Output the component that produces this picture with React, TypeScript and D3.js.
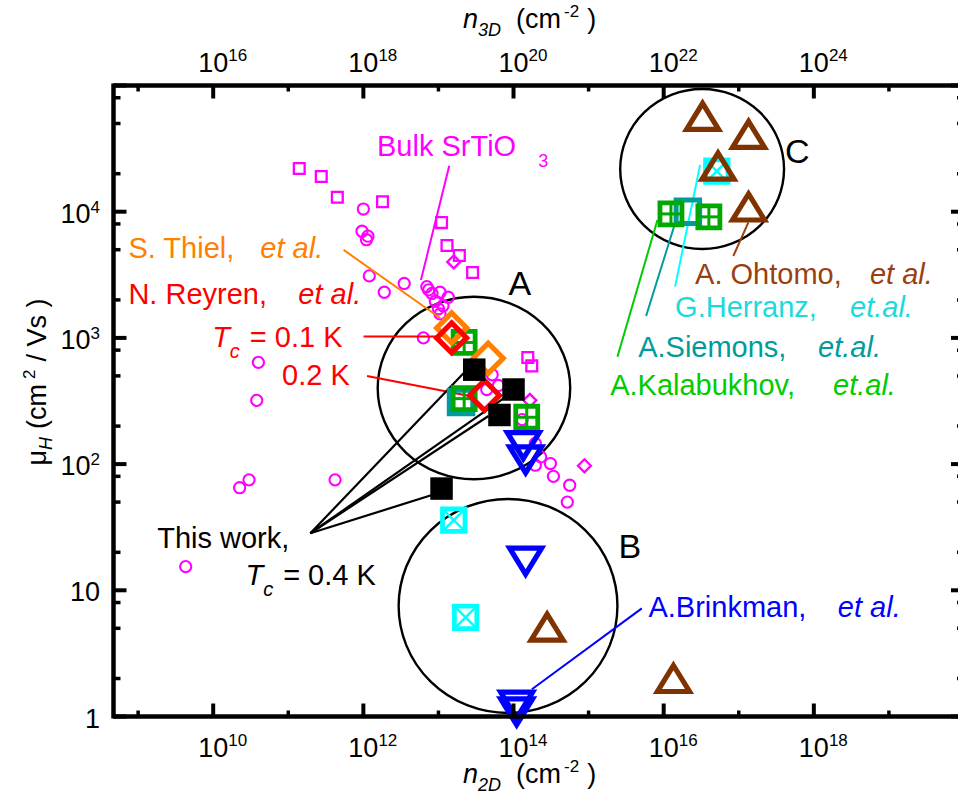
import React from "react";
import * as d3 from "d3";

// ---------- axes ----------
const X_MIN = 4.7e8;
const X_MAX = 1e20;
const Y_MIN = 1;
const Y_MAX = 1e5;
const BOTTOM_TICK_EXPS = [9, 10, 11, 12, 13, 14, 15, 16, 17, 18, 19];
const BOTTOM_LABEL_EXPS = [10, 12, 14, 16, 18];
const TOP_EXP_OFFSET = 6; // n3D label exponent = n2D exponent + 6
const Y_MAJOR_EXPS = [0, 1, 2, 3, 4, 5];
const Y_MINOR_MULT = [2, 5, 8];
const Y_LABELS = [
  { exp: 0, base: "1", sup: "" },
  { exp: 1, base: "10", sup: "" },
  { exp: 2, base: "10", sup: "2" },
  { exp: 3, base: "10", sup: "3" },
  { exp: 4, base: "10", sup: "4" },
];

// ---------- data (n2D in cm^-2, mu in cm^2/Vs) ----------
const bulkSquareN = [1.4e11, 2.75e11, 4.5e11, 1.8e12, 1.1e13, 1.3e13, 1.9e13, 2.85e13, 1.55e14, 1.75e14];
const bulkSquareMu = [22000, 19000, 13000, 12000, 8200, 5400, 4500, 3300, 700, 600];
const bulkDiamondN = [1.6e13, 1.65e14, 8.8e14];
const bulkDiamondMu = [4000, 320, 97];
const bulkCircleN = [
  1.0e12, 9.6e11, 1.15e12, 1.1e12, 1.2e12, 1.9e12, 3.5e12, 7.0e12, 7.4e12, 8.2e12,
  1.05e13, 1.35e13, 9.1e12, 1.0e13, 1.05e13, 1.15e13, 6.3e12, 4.0e10, 3.8e10, 3.0e10,
  2.25e10, 4.2e11, 4.3e9, 5.2e13, 4.4e13, 6.3e13, 1.3e14, 1.95e14, 2.3e14, 1.95e14,
  3.1e14, 3.4e14, 5.6e14, 5.2e14,
];
const bulkCircleMu = [
  10500, 7000, 6400, 6000, 3100, 2300, 2700, 2550, 2400, 2250,
  2300, 2100, 1950, 1700, 1550, 1800, 1000, 640, 320, 75,
  65, 75, 15.4, 510, 390, 420, 225, 146, 114, 98,
  101, 80, 68, 50,
];
const thisWorkN = [3.0e13, 1.0e14, 6.5e13, 1.1e13];
const thisWorkMu = [560, 390, 245, 64];
const reyrenN = [1.5e13, 4.1e13];
const reyrenMu = [1000, 350];
const thielN = [1.5e13, 4.6e13];
const thielMu = [1200, 690];
const kalabukhovN = [2.2e13, 2.2e13, 1.5e14, 1.25e16, 4.0e16];
const kalabukhovMu = [920, 330, 235, 9600, 9100];
const siemonsN = [2.0e13, 2.1e16];
const siemonsMu = [310, 10000];
const herranzN = [1.6e13, 2.3e13, 5.1e16];
const herranzMu = [36, 6.1, 21000];
const ohtomoN = [3.3e16, 1.35e17, 5.3e16, 1.35e17, 2.8e14, 1.35e16];
const ohtomoMu = [57000, 41000, 23000, 10900, 5.1, 2.0];
const brinkmanN = [1.35e14, 1.45e14, 1.45e14, 1.1e14, 1.1e14];
const brinkmanMu = [140, 108, 17, 1.23, 1.09];

// ---------- colours ----------
const MAGENTA = "#FF00FF";
const ORANGE = "#FF8000";
const RED = "#FF0000";
const GREEN_MARK = "#00A800";
const GREEN_TEXT = "#00CC00";
const TEAL = "#009B9B";
const CYAN = "#00FFFF";
const CYAN_TEXT = "#1ADADA";
const BROWN = "#803300";
const BROWN_TEXT = "#9A4010";
const BLUE = "#0000FF";

const FONT = "'Liberation Sans', Arial, Helvetica, sans-serif";

// ---------- layout ----------
const PLOT = { left: 113.5, right: 964, top: 85.5, bottom: 716.5 };

// group circles (log10 centre, log10 half-widths)
const groupEllipses = [
  { c: [13.473, 2.603], r: [1.282, 0.723], label: "A", at: [13.933, 3.34] },
  { c: [13.927, 0.876], r: [1.457, 0.848], label: "B", at: [15.398, 1.254] },
  { c: [16.512, 4.338], r: [1.091, 0.634], label: "C", at: [17.617, 4.386] },
];

// leader lines in log10 coordinates
const leaders = [
  { a: [11.737, 3.697], b: [13.024, 3.158], color: ORANGE, w: 2 },
  { a: [12.003, 3.011], b: [13.024, 3.011], color: RED, w: 2.2 },
  { a: [12.049, 2.698], b: [13.468, 2.534], color: RED, w: 2.2 },
  { a: [11.294, 1.452], b: [12.914, 1.755], color: "#000", w: 2.2 },
  { a: [11.294, 1.452], b: [13.334, 2.72], color: "#000", w: 2.2 },
  { a: [11.294, 1.452], b: [13.867, 2.521], color: "#000", w: 2.2 },
  { a: [11.294, 1.452], b: [13.667, 2.381], color: "#000", w: 2.2 },
  { a: [13.144, 4.365], b: [12.767, 3.459], color: MAGENTA, w: 2 },
  { a: [17.128, 3.916], b: [16.928, 3.649], color: BROWN_TEXT, w: 2 },
  { a: [16.485, 4.37], b: [16.152, 3.406], color: CYAN, w: 2 },
  { a: [16.183, 3.968], b: [15.766, 3.174], color: TEAL, w: 2 },
  { a: [15.917, 3.934], b: [15.384, 2.851], color: GREEN_TEXT, w: 2 },
  { a: [15.709, 0.857], b: [14.245, 0.216], color: BLUE, w: 2 },
];

type Span = { t: string; italic?: boolean; size?: number; dx?: number; dy?: number };
type Note = { at: number[]; color: string; spans: Span[] };
const NOTE_SIZE = 29;
const notes: Note[] = [
  { at: [12.182, 4.441], color: MAGENTA, spans: [{ t: "Bulk SrTiO" }] },
  { at: [14.329, 4.357], color: MAGENTA, spans: [{ t: "3", size: 18 }] },
  { at: [8.871, 3.633], color: ORANGE, spans: [{ t: "S. Thiel," }] },
  { at: [10.628, 3.633], color: ORANGE, spans: [{ t: "et al.", italic: true }] },
  { at: [8.871, 3.269], color: RED, spans: [{ t: "N. Reyren," }] },
  { at: [11.134, 3.269], color: RED, spans: [{ t: "et al.", italic: true }] },
  {
    at: [9.986, 2.93], color: RED,
    spans: [{ t: "T", italic: true }, { t: "c", italic: true, size: 20, dy: 11 }, { t: "= 0.1 K", dx: 10, dy: -11 }],
  },
  { at: [10.917, 2.627], color: RED, spans: [{ t: "0.2 K" }] },
  { at: [9.254, 1.333], color: "#000", spans: [{ t: "This work," }] },
  {
    at: [10.429, 1.042], color: "#000",
    spans: [{ t: "T", italic: true }, { t: "c", italic: true, size: 20, dy: 11 }, { t: "= 0.4 K", dx: 10, dy: -11 }],
  },
  { at: [16.418, 3.427], color: BROWN_TEXT, spans: [{ t: "A. Ohtomo," }] },
  { at: [18.748, 3.427], color: BROWN_TEXT, spans: [{ t: "et al.", italic: true }] },
  { at: [16.152, 3.168], color: CYAN_TEXT, spans: [{ t: "G.Herranz," }] },
  { at: [18.482, 3.168], color: CYAN_TEXT, spans: [{ t: "et.al.", italic: true }] },
  { at: [15.66, 2.851], color: TEAL, spans: [{ t: "A.Siemons," }] },
  { at: [18.057, 2.851], color: TEAL, spans: [{ t: "et.al.", italic: true }] },
  { at: [15.287, 2.548], color: GREEN_TEXT, spans: [{ t: "A.Kalabukhov," }] },
  { at: [18.256, 2.548], color: GREEN_TEXT, spans: [{ t: "et.al.", italic: true }] },
  { at: [15.797, 0.791], color: BLUE, spans: [{ t: "A.Brinkman," }] },
  { at: [18.32, 0.791], color: BLUE, spans: [{ t: "et al.", italic: true }] },
];

function zip(a: number[], b: number[]) {
  return a.map((v, i) => [v, b[i]]);
}

export default function App() {
  const sx = d3.scaleLog().domain([X_MIN, X_MAX]).range([PLOT.left, PLOT.right]);
  const sy = d3.scaleLog().domain([Y_MIN, Y_MAX]).range([PLOT.bottom, PLOT.top]);
  const lp = (l: number[]) => [sx(Math.pow(10, l[0])), sy(Math.pow(10, l[1]))];
  const pt = (d: number[]) => [sx(d[0]), sy(d[1])];

  const sqPath = (cx: number, cy: number, s: number) =>
    `M${cx - s / 2},${cy - s / 2}h${s}v${s}h${-s}Z`;
  const diaPath = (cx: number, cy: number, r: number) =>
    `M${cx},${cy - r}L${cx + r},${cy}L${cx},${cy + r}L${cx - r},${cy}Z`;
  const triUp = (cx: number, cy: number, w: number, h: number) =>
    `M${cx},${cy - h / 2}L${cx + w / 2},${cy + h / 2}L${cx - w / 2},${cy + h / 2}Z`;
  const triDown = (cx: number, cy: number, w: number, h: number) =>
    `M${cx},${cy + h / 2}L${cx + w / 2},${cy - h / 2}L${cx - w / 2},${cy - h / 2}Z`;

  const yMinor: number[] = [];
  Y_MAJOR_EXPS.slice(0, -1).forEach((e) => Y_MINOR_MULT.forEach((m) => yMinor.push(m * Math.pow(10, e))));

  const frameW = 4.5;

  return (
    <svg
      width={958}
      height={807}
      style={{ position: "absolute", left: 0, top: 0, background: "#fff" }}
      fontFamily={FONT}
    >
      <rect x={0} y={0} width={958} height={807} fill="#fff" />

      {/* group ellipses */}
      {groupEllipses.map((g, i) => {
        const [cx, cy] = lp(g.c);
        const rx = sx(Math.pow(10, g.c[0] + g.r[0])) - cx;
        const ry = cy - sy(Math.pow(10, g.c[1] + g.r[1]));
        return <ellipse key={i} cx={cx} cy={cy} rx={rx} ry={ry} fill="none" stroke="#000" strokeWidth={2.4} />;
      })}
      {groupEllipses.map((g, i) => {
        const [x, y] = lp(g.at);
        return (
          <text key={"gl" + i} x={x} y={y} fontSize={34} fill="#000">
            {g.label}
          </text>
        );
      })}

      {/* bulk SrTiO3 */}
      {zip(bulkCircleN, bulkCircleMu).map((d, i) => {
        const [x, y] = pt(d);
        return <circle key={"bc" + i} cx={x} cy={y} r={5.6} fill="none" stroke={MAGENTA} strokeWidth={2.1} />;
      })}
      {zip(bulkSquareN, bulkSquareMu).map((d, i) => {
        const [x, y] = pt(d);
        return <path key={"bs" + i} d={sqPath(x, y, 10.8)} fill="none" stroke={MAGENTA} strokeWidth={2.3} />;
      })}
      {zip(bulkDiamondN, bulkDiamondMu).map((d, i) => {
        const [x, y] = pt(d);
        return <path key={"bd" + i} d={diaPath(x, y, 6.5)} fill="none" stroke={MAGENTA} strokeWidth={2.3} />;
      })}

      {/* leader lines */}
      {leaders.map((l, i) => {
        const [x1, y1] = lp(l.a);
        const [x2, y2] = lp(l.b);
        return <line key={"ld" + i} x1={x1} y1={y1} x2={x2} y2={y2} stroke={l.color} strokeWidth={l.w} />;
      })}

      {/* Siemons */}
      {zip(siemonsN, siemonsMu).map((d, i) => {
        const [x, y] = pt(d);
        return <path key={"si" + i} d={sqPath(x, y, 23.5)} fill="none" stroke={TEAL} strokeWidth={5} />;
      })}
      {/* Kalabukhov */}
      {zip(kalabukhovN, kalabukhovMu).map((d, i) => {
        const [x, y] = pt(d);
        const s = 22;
        return (
          <g key={"ka" + i} stroke={GREEN_MARK} fill="none">
            <path d={sqPath(x, y, s)} strokeWidth={4.8} />
            <line x1={x - s / 2} x2={x + s / 2} y1={y} y2={y} strokeWidth={3} />
            <line x1={x} x2={x} y1={y - s / 2} y2={y + s / 2} strokeWidth={3} />
          </g>
        );
      })}
      {/* Herranz */}
      {zip(herranzN, herranzMu).map((d, i) => {
        const [x, y] = pt(d);
        const s = 22.5;
        return (
          <g key={"he" + i} stroke={CYAN} fill="none">
            <path d={sqPath(x, y, s)} strokeWidth={4.8} />
            <line x1={x - s / 2} x2={x + s / 2} y1={y - s / 2} y2={y + s / 2} strokeWidth={2.5} />
            <line x1={x + s / 2} x2={x - s / 2} y1={y - s / 2} y2={y + s / 2} strokeWidth={2.5} />
          </g>
        );
      })}
      {/* Thiel */}
      {zip(thielN, thielMu).map((d, i) => {
        const [x, y] = pt(d);
        return <path key={"th" + i} d={diaPath(x, y, 15)} fill="none" stroke={ORANGE} strokeWidth={5.2} />;
      })}
      {/* Reyren */}
      {zip(reyrenN, reyrenMu).map((d, i) => {
        const [x, y] = pt(d);
        return <path key={"re" + i} d={diaPath(x, y, 15)} fill="none" stroke={RED} strokeWidth={5.2} />;
      })}
      {/* This work */}
      {zip(thisWorkN, thisWorkMu).map((d, i) => {
        const [x, y] = pt(d);
        return <path key={"tw" + i} d={sqPath(x, y, 22.5)} fill="#000" />;
      })}
      {/* Brinkman */}
      {zip(brinkmanN, brinkmanMu).map((d, i) => {
        const [x, y] = pt(d);
        return <path key={"br" + i} d={triDown(x, y, 32, 26)} fill="none" stroke={BLUE} strokeWidth={5.2} />;
      })}
      {/* Ohtomo */}
      {zip(ohtomoN, ohtomoMu).map((d, i) => {
        const [x, y] = pt(d);
        return <path key={"oh" + i} d={triUp(x, y, 32, 26)} fill="none" stroke={BROWN} strokeWidth={5.2} />;
      })}

      {/* annotation texts */}
      {notes.map((n, i) => {
        const [x, y] = lp(n.at);
        return (
          <text key={"nt" + i} x={x} y={y} fill={n.color} fontSize={NOTE_SIZE}>
            {n.spans.map((s, j) => (
              <tspan
                key={j}
                fontStyle={s.italic ? "italic" : "normal"}
                fontSize={s.size || NOTE_SIZE}
                dx={s.dx || 0}
                dy={s.dy || 0}
              >
                {s.t}
              </tspan>
            ))}
          </text>
        );
      })}

      {/* frame */}
      <g stroke="#000" strokeWidth={frameW} fill="none">
        <line x1={PLOT.left} x2={PLOT.right} y1={PLOT.bottom} y2={PLOT.bottom} />
        <line x1={PLOT.left} x2={PLOT.right} y1={PLOT.top} y2={PLOT.top} />
        <line x1={PLOT.left} x2={PLOT.left} y1={PLOT.top - 2} y2={PLOT.bottom + 2} />
        <line x1={PLOT.right} x2={PLOT.right} y1={PLOT.top - 2} y2={PLOT.bottom + 2} />
      </g>

      {/* x ticks (bottom and top) */}
      {BOTTOM_TICK_EXPS.map((e) => {
        const x = sx(Math.pow(10, e));
        const major = BOTTOM_LABEL_EXPS.includes(e);
        const len = major ? 13 : 6;
        return (
          <g key={"xt" + e} stroke="#000" strokeWidth={major ? 4 : 3.5}>
            <line x1={x} x2={x} y1={PLOT.bottom} y2={PLOT.bottom - len} />
            <line x1={x} x2={x} y1={PLOT.top} y2={PLOT.top + len} />
          </g>
        );
      })}
      {/* y ticks (left and right) */}
      {Y_MAJOR_EXPS.map((e) => {
        const y = sy(Math.pow(10, e));
        return (
          <g key={"ytM" + e} stroke="#000" strokeWidth={4}>
            <line x1={PLOT.left} x2={PLOT.left + 13} y1={y} y2={y} />
            <line x1={PLOT.right} x2={PLOT.right - 13} y1={y} y2={y} />
          </g>
        );
      })}
      {yMinor.map((v, i) => {
        const y = sy(v);
        return (
          <g key={"ytm" + i} stroke="#000" strokeWidth={3.5}>
            <line x1={PLOT.left} x2={PLOT.left + 7} y1={y} y2={y} />
            <line x1={PLOT.right} x2={PLOT.right - 7} y1={y} y2={y} />
          </g>
        );
      })}

      {/* bottom tick labels */}
      {BOTTOM_LABEL_EXPS.map((e) => {
        const x = sx(Math.pow(10, e));
        return (
          <text key={"bl" + e} x={x - 15} y={757} fontSize={27} fill="#000">
            10
            <tspan fontSize={17} dy={-11}>
              {String(e)}
            </tspan>
          </text>
        );
      })}
      {/* top tick labels */}
      {BOTTOM_LABEL_EXPS.map((e) => {
        const x = sx(Math.pow(10, e));
        return (
          <text key={"tl" + e} x={x - 15} y={72} fontSize={27} fill="#000">
            10
            <tspan fontSize={17} dy={-11}>
              {String(e + TOP_EXP_OFFSET)}
            </tspan>
          </text>
        );
      })}
      {/* y tick labels */}
      {Y_LABELS.map((l) => {
        const y = sy(Math.pow(10, l.exp)) + 11;
        return (
          <text key={"yl" + l.exp} x={100} y={y} fontSize={27} fill="#000" textAnchor="end">
            {l.base}
            {l.sup ? (
              <tspan fontSize={17} dy={-10}>
                {l.sup}
              </tspan>
            ) : null}
          </text>
        );
      })}

      {/* axis titles */}
      <text x={463} y={783} fontSize={27} fill="#000">
        <tspan fontStyle="italic">n</tspan>
        <tspan fontStyle="italic" fontSize={18} dy={8}>2D</tspan>
        <tspan dx={15} dy={-8}>(cm</tspan>
        <tspan fontSize={17} dx={3} dy={-11}>-2</tspan>
        <tspan dx={8} dy={11}>)</tspan>
      </text>
      <text x={463} y={28} fontSize={27} fill="#000">
        <tspan fontStyle="italic">n</tspan>
        <tspan fontStyle="italic" fontSize={18} dy={8}>3D</tspan>
        <tspan dx={15} dy={-8}>(cm</tspan>
        <tspan fontSize={17} dx={3} dy={-11}>-2</tspan>
        <tspan dx={8} dy={11}>)</tspan>
      </text>
      <text transform="translate(46,382) rotate(-90)" fontSize={27} fill="#000" textAnchor="middle">
        <tspan>μ</tspan>
        <tspan fontStyle="italic" fontSize={18} dy={6}>H</tspan>
        <tspan dx={8} dy={-6}>(cm</tspan>
        <tspan fontSize={17} dx={5} dy={-11}>2</tspan>
        <tspan dx={8} dy={11}>/ Vs )</tspan>
      </text>
    </svg>
  );
}
